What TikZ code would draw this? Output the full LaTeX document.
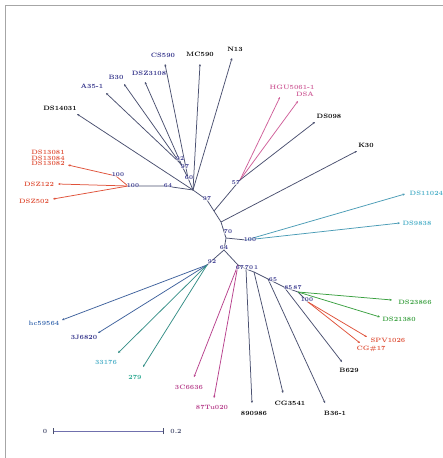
\documentclass[tikz,border=0pt]{standalone}
\usetikzlibrary{arrows.meta}
\definecolor{edge}{HTML}{4A5070}
\definecolor{navy}{HTML}{32328A}
\definecolor{rd}{HTML}{E0523A}
\definecolor{pk}{HTML}{D0609A}
\definecolor{mg}{HTML}{B8408C}
\definecolor{cy}{HTML}{4AAFC8}
\definecolor{gr}{HTML}{3AA040}
\definecolor{tl}{HTML}{2AA890}
\definecolor{bl}{HTML}{3A6AB0}
\tikzset{
  x=1pt,y=-1pt,
  br/.style={draw=edge,line width=0.75pt},
  lf/.style={draw=edge,line width=0.75pt,-{Stealth[length=2.4pt,width=2.2pt]}},
  lab/.style={font=\fontsize{6.3}{6.3}\selectfont\bfseries,inner sep=0.5pt},
  bs/.style={font=\fontsize{5.8}{5.8}\selectfont\bfseries,text=navy,inner sep=0.3pt,fill=white,fill opacity=0.6,text opacity=1}
}
\begin{document}
\begin{tikzpicture}
\useasboundingbox (0,0) rectangle (443,458);
\fill[white] (0,0) rectangle (443,458);
\draw[gray!70,line width=0.8pt] (5,458) -- (5,5) -- (443,5);

% backbone coordinates
\coordinate (u1) at (180,163);
\coordinate (u2) at (183,168);
\coordinate (u3) at (188,178);
\coordinate (b1) at (193,190);
\coordinate (b2) at (207,200);
\coordinate (b3) at (214,211);
\coordinate (b4) at (221,222);
\coordinate (b5) at (226,238);
\coordinate (b6) at (224,250);
\coordinate (b7) at (238,265);
\coordinate (b7b) at (246,269);
\coordinate (b7c) at (254,272);
\coordinate (b8) at (268,279);
\coordinate (b9) at (284,287);
\coordinate (b10) at (298,292);
\coordinate (b11) at (308,302);
\coordinate (n64) at (165,186);
\coordinate (n100b) at (128,186);
\coordinate (n100a) at (116,176);
\coordinate (n57) at (240,180);
\coordinate (n100c) at (246,240);
\coordinate (n92) at (207,265);

% tips
\coordinate (tN13) at (232,58);
\coordinate (tMC) at (200,64);
\coordinate (tCS) at (165,64);
\coordinate (tDSZ) at (145,82);
\coordinate (tB30) at (124,84);
\coordinate (tA35) at (106,93);
\coordinate (tDS14) at (77,114);
\coordinate (tR1) at (68,165);
\coordinate (tR2) at (58,184);
\coordinate (tR3) at (53,199);
\coordinate (tH1) at (280,97);
\coordinate (tH2) at (298,101);
\coordinate (tD98) at (315,122);
\coordinate (tK30) at (357,151);
\coordinate (tC1) at (405,194);
\coordinate (tC2) at (400,223);
\coordinate (tG1) at (392,300);
\coordinate (tG2) at (380,317);
\coordinate (tS1) at (367,337);
\coordinate (tS2) at (360,343);
\coordinate (tB629) at (342,362);
\coordinate (tB36) at (325,403);
\coordinate (tCG) at (283,393);
\coordinate (t890) at (252,403);
\coordinate (t87) at (214,398);
\coordinate (t3C) at (194,377);
\coordinate (thc) at (62,320);
\coordinate (t3J) at (98,333);
\coordinate (t331) at (118,353);
\coordinate (t279) at (143,367);

% internal edges
\draw[br] (u1) -- (u2) -- (u3) -- (b1) -- (b2) -- (b3) -- (b4) -- (b5) -- (b6) -- (b7) -- (b7b) -- (b7c) -- (b8) -- (b9) -- (b10) -- (b11);
\draw[br] (b1) -- (n64) -- (n100b);
\draw[br,draw=rd] (n100b) -- (n100a);
\draw[br] (b3) -- (n57);
\draw[br] (b5) -- (n100c);
\draw[br] (b6) -- (n92);

% leaf edges
\draw[lf] (b1) -- (tN13);
\draw[lf] (b1) -- (tMC);
\draw[lf] (u3) -- (tCS);
\draw[lf] (u2) -- (tDSZ);
\draw[lf] (u1) -- (tB30);
\draw[lf] (u1) -- (tA35);
\draw[lf] (b1) -- (tDS14);
\draw[lf,draw=rd] (n100a) -- (tR1);
\draw[lf,draw=rd] (n100b) -- (tR2);
\draw[lf,draw=rd] (n100b) -- (tR3);
\draw[lf,draw=pk] (n57) -- (tH1);
\draw[lf,draw=pk] (n57) -- (tH2);
\draw[lf] (n57) -- (tD98);
\draw[lf] (b4) -- (tK30);
\draw[lf,draw=cy!80!edge] (n100c) -- (tC1);
\draw[lf,draw=cy!80!edge] (n100c) -- (tC2);
\draw[lf,draw=gr] (b10) -- (tG1);
\draw[lf,draw=gr] (b10) -- (tG2);
\draw[lf,draw=rd] (b11) -- (tS1);
\draw[lf,draw=rd] (b11) -- (tS2);
\draw[lf] (b9) -- (tB629);
\draw[lf] (b8) -- (tB36);
\draw[lf] (b7c) -- (tCG);
\draw[lf] (b7b) -- (t890);
\draw[lf,draw=mg] (b7) -- (t87);
\draw[lf,draw=mg] (b7) -- (t3C);
\draw[lf,draw=bl!70!edge] (n92) -- (thc);
\draw[lf,draw=bl!70!edge] (n92) -- (t3J);
\draw[lf,draw=tl!70!edge] (n92) -- (t331);
\draw[lf,draw=tl!70!edge] (n92) -- (t279);

% leaf labels
\node[lab] (lN13) at (235,49) {N13};
\node[lab] (lMC) at (200,54) {MC590};
\node[lab,text=navy] (lCS) at (163,55) {CS590};
\node[lab,text=navy] (lDSZ) at (149,73) {DSZ3108};
\node[lab,text=navy] (lB30) at (116,77) {B30};
\node[lab,text=navy] (lA35) at (92,86) {A35-1};
\node[lab] (lDS14) at (60,108) {DS14031};
\node[lab,text=rd,align=left,font=\fontsize{6.3}{3.5}\selectfont\bfseries] (lR1) at (48,158) {DS13081\\DS13084\\DS13082};
\node[lab,text=rd] (lR2) at (39,184) {DSZ122};
\node[lab,text=rd] (lR3) at (34,201) {DSZ502};
\node[lab,text=pk] (lH1) at (292,87) {HGU5061-1};
\node[lab,text=pk] (lH2) at (305,94) {DSA};
\node[lab] (lD98) at (329,116) {DS098};
\node[lab] (lK30) at (366,145) {K30};
\node[lab,text=cy,anchor=west] (lC1) at (409,193) {DS11024};
\node[lab,text=cy] (lC2) at (417,223) {DS9838};
\node[lab,text=gr] (lG1) at (415,302) {DS23866};
\node[lab,text=gr] (lG2) at (399,319) {DS21380};
\node[lab,text=rd] (lS1) at (388,340) {SPV1026};
\node[lab,text=rd] (lS2) at (371,349) {CG\#17};
\node[lab] (lB629) at (349,370) {B629};
\node[lab] (lB36) at (335,413) {B36-1};
\node[lab] (lCG) at (290,403) {CG3541};
\node[lab] (l890) at (254,413) {890986};
\node[lab,text=mg] (l87) at (212,407) {87Tu020};
\node[lab,text=mg] (l3C) at (189,387) {3C6636};
\node[lab,text=bl] (lhc) at (44,323) {hc59564};
\node[lab,text=navy] (l3J) at (84,337) {3J6820};
\node[lab,text=cy] (l331) at (106,362) {33176};
\node[lab,text=tl] (l279) at (135,377) {279};

% bootstrap labels
\node[bs] (s1) at (118,175) {100};
\node[bs] (s2) at (133,186) {100};
\node[bs] (s3) at (168,186) {64};
\node[bs] (s4) at (180,159) {92};
\node[bs] (s5) at (185,167) {97};
\node[bs] (s6) at (189,178) {60};
\node[bs] (s7) at (207,199) {97};
\node[bs] (s8) at (236,183) {57};
\node[bs] (s9) at (228,232) {70};
\node[bs] (s10) at (250,240) {100};
\node[bs] (s11) at (224,248) {64};
\node[bs] (s12) at (212,262) {92};
\node[bs] (s13) at (247,268) {67\,70\,1};
\node[bs] (s14) at (273,280) {65};
\node[bs] (s15) at (293,288) {85\,87};
\node[bs] (s16) at (307,300) {100};

% scale bar
\node[lab,text=edge] (z0) at (45,431) {0};
\node[lab,text=edge] (z2) at (176,431) {0.2};
\coordinate (sa) at (53,431);
\coordinate (sb) at (163,431);
\draw[br,draw=navy!70] (sa) -- (sb);
\draw[br] ([yshift=-3]sa) -- ([yshift=3]sa);
\draw[br] ([yshift=-3]sb) -- ([yshift=3]sb);
\end{tikzpicture}
\end{document}
